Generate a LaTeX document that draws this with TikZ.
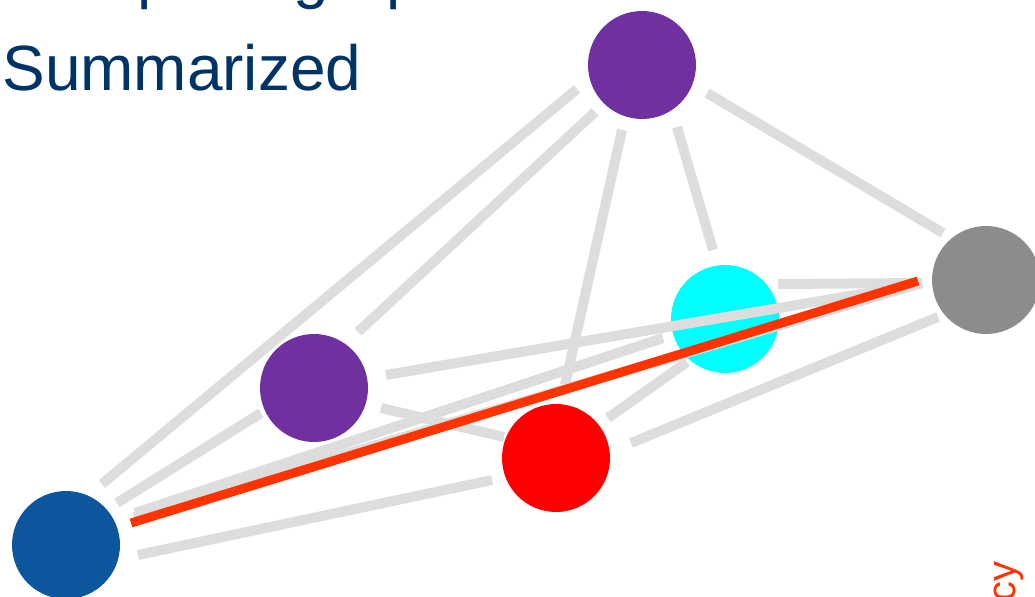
\documentclass[tikz,border=0pt]{standalone}
\usepackage{fontspec}
\setmainfont{Liberation Sans}
\usetikzlibrary{calc}
\definecolor{purpleA}{HTML}{7030A0}
\definecolor{blueA}{HTML}{0C569E}
\definecolor{cyanA}{HTML}{00FFFF}
\definecolor{redA}{HTML}{FF0000}
\definecolor{grayA}{HTML}{8C8C8C}
\definecolor{edgeA}{HTML}{DDDDDD}
\definecolor{orangeA}{HTML}{FF3300}
\definecolor{titleA}{HTML}{003366}
\tikzset{
  dot/.style={circle, draw=none, inner sep=0pt, minimum size=2.16cm},
  edge/.style={draw=edgeA, line width=0.2cm, line cap=butt},
  hot/.style={draw=orangeA, line width=0.18cm, line cap=butt},
  title/.style={text=titleA, inner sep=0pt, font=\fontsize{36.4}{40}\selectfont},
}
\begin{document}
\begin{tikzpicture}[x=0.02cm,y=-0.02cm]
\useasboundingbox (0,0) rectangle (1035,597);
% title
\node[title, anchor=base west] (t1) at (2,-3.4) {Complete graph};
\node[title, anchor=base west] (t2) at (2,90.7) {Summarized};
% nodes
\node[dot, fill=purpleA] (T) at (642,65) {};
\node[dot, fill=purpleA] (M) at (314,388) {};
\node[dot, fill=redA] (R) at (556,458) {};
\node[dot, fill=blueA] (B) at (66,545) {};
\node[dot, fill=cyanA] (C) at (725,319) {};
\node[dot, fill=grayA] (G) at (986,280) {};
% gray edges
\draw[edge] ($(T)+(-65,24)$) -- ($(B)+(36,-61)$);
\draw[edge] ($(T)+(-47,47)$) -- ($(M)+(44,-56)$);
\draw[edge] ($(T)+(-20,65)$) -- ($(R)+(9,-73)$);
\draw[edge] ($(T)+(35,62)$) -- ($(C)+(-12,-69)$);
\draw[edge] ($(T)+(65,28)$) -- ($(G)+(-43,-47)$);
\draw[edge] ($(M)+(-53,25)$) -- ($(B)+(51,-42)$);
\draw[edge] ($(M)+(67,20)$) -- ($(R)+(-52,-21)$);
\draw[edge] ($(B)+(69,-32)$) -- ($(C)+(-62,19)$);
\draw[edge] ($(B)+(72,10)$) -- ($(R)+(-64,22)$);
\draw[edge] ($(R)+(52,-40)$) -- ($(C)+(-38,43)$);
\draw[edge] ($(R)+(75,-15)$) -- ($(G)+(-48,37)$);
\draw[edge] ($(C)+(53,-35)$) -- ($(G)+(-64,3)$);
\draw[edge] ($(M)+(72,-13)$) -- ($(G)+(-66,4)$);
\draw[edge] ($(B)+(68,-28)$) -- ($(G)+(-64,3)$);
% highlighted edge
\draw[hot] ($(B)+(65,-22)$) -- ($(G)+(-68,1)$);
% rotated label
\node[text=orangeA, inner sep=0pt, rotate=90, anchor=base east,
      font=\fontsize{22.7}{26}\selectfont] (lab) at (1015,561) {cy};
\end{tikzpicture}
\end{document}
